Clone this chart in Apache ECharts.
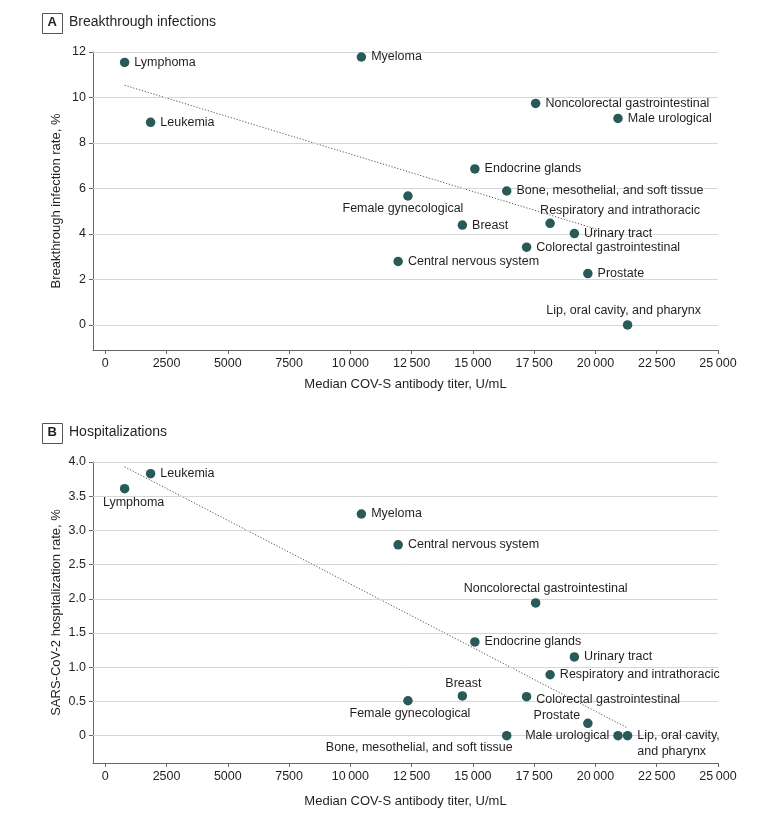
<!DOCTYPE html>
<html><head><meta charset="utf-8">
<script src="https://cdn.jsdelivr.net/npm/echarts@6/dist/echarts.min.js"></script>
<style>html,body{margin:0;padding:0;background:#fff}#c{width:780px;height:818px}</style>
</head><body><div id="c"></div>
<script>
const categories = ['Lymphoma','Leukemia','Myeloma','Central nervous system','Female gynecological','Breast','Endocrine glands','Bone, mesothelial, and soft tissue','Colorectal gastrointestinal','Noncolorectal gastrointestinal','Respiratory and intrathoracic','Urinary tract','Prostate','Male urological','Lip, oral cavity, and pharynx'];
const titer = [790, 1850, 10450, 11950, 12350, 14570, 15080, 16380, 17190, 17560, 18150, 19140, 19690, 20920, 21310];
const breakthroughRate = [11.54, 8.91, 11.78, 2.79, 5.67, 4.39, 6.86, 5.89, 3.42, 9.74, 4.47, 4.02, 2.26, 9.08, 0];
const hospitalizationRate = [3.61, 3.83, 3.24, 2.79, 0.51, 0.58, 1.37, 0, 0.57, 1.94, 0.89, 1.15, 0.18, 0, 0];
const trendA = [[790, 10.54], [20200, 4.16]];
const trendB = [[790, 3.93], [21270, 0.12]];
const xTicks = [0, 2500, 5000, 7500, 10000, 12500, 15000, 17500, 20000, 22500, 25000];
const yTicksA = [0, 2, 4, 6, 8, 10, 12];
const yTicksB = [0, 0.5, 1.0, 1.5, 2.0, 2.5, 3.0, 3.5, 4.0];

const FONT = 'Liberation Sans';
const TXT = '#231f20';
const DOT = '#285a58';
const AX = '#666666';
const GRIDC = '#d6d6d6';
const LS = 12.5;

// label placement (styling only)
const placeA = {
  'Female gynecological': {position: 'bottom', distance: 1, offset: [-5, 0]},
  'Respiratory and intrathoracic': {position: 'top', distance: 1, align: 'left', offset: [-10, 0]},
  'Lip, oral cavity, and pharynx': {position: 'top', distance: 3, offset: [-4, 0]}
};
const placeB = {
  'Lymphoma': {position: 'bottom', distance: 3, offset: [9, 0]},
  'Noncolorectal gastrointestinal': {position: 'top', distance: 3, offset: [10, 0]},
  'Breast': {position: 'top', distance: 1, offset: [1, 0]},
  'Colorectal gastrointestinal': {position: 'right', distance: 5, offset: [0, 3]},
  'Female gynecological': {position: 'bottom', distance: 2, offset: [2, 0]},
  'Prostate': {position: 'left', distance: 3, offset: [0, -8]},
  'Male urological': {position: 'left', distance: 4},
  'Bone, mesothelial, and soft tissue': {position: 'bottom', distance: 1, align: 'right', offset: [6, 0]},
  'Lip, oral cavity, and pharynx': {position: 'right', distance: 5, offset: [0, 8], formatter: 'Lip, oral cavity,\nand pharynx', lineHeight: 16}
};

function fmtX(v) {
  if (v >= 10000) { const s = String(v); return s.slice(0, s.length - 3) + '\u2009' + s.slice(-3); }
  return String(v);
}
function fmtY(v) { return v === 0 ? '0' : v.toFixed(1); }

function pts(rates, place) {
  return categories.map((n, i) => {
    const lab = Object.assign({show: true, position: 'right', distance: 5}, place[n] || {});
    return {name: n, value: [titer[i], rates[i]], label: lab};
  });
}

const baseX = (gi) => ({
  type: 'value', gridIndex: gi, min: -500, max: 25000,
  name: 'Median COV-S antibody titer, U/mL', nameLocation: 'middle',
  nameGap: gi === 0 ? 28 : 32, nameMoveOverlap: false,
  nameTextStyle: {fontFamily: FONT, fontSize: 13, color: TXT},
  axisLine: {show: true, onZero: false, lineStyle: {color: AX, width: 1}},
  axisTick: {show: true, length: 4, customValues: xTicks, lineStyle: {color: AX}},
  axisLabel: {customValues: xTicks, formatter: fmtX, margin: 7, fontFamily: FONT, fontSize: LS, color: TXT},
  splitLine: {show: false}
});
const baseY = (gi, min, max, ticks, name, fmt) => ({
  type: 'value', gridIndex: gi, min: min, max: max,
  name: name, nameLocation: 'middle', nameGap: 30, nameMoveOverlap: false,
  nameTextStyle: {fontFamily: FONT, fontSize: 13, color: TXT},
  axisLine: {show: true, onZero: false, lineStyle: {color: AX, width: 1}},
  axisTick: {show: true, length: 4, customValues: ticks, lineStyle: {color: AX}},
  axisLabel: {customValues: ticks, formatter: fmt, margin: 7, fontFamily: FONT, fontSize: LS, color: TXT},
  splitLine: {show: false}
});

const gridLines = (ticks) => ({
  silent: true, symbol: 'none', animation: false,
  label: {show: false},
  lineStyle: {color: GRIDC, width: 1, type: 'solid'},
  data: ticks.map(v => ({yAxis: v}))
});

const scatterStyle = {
  type: 'scatter', symbolSize: 9.5, z: 5,
  itemStyle: {color: DOT, opacity: 1},
  label: {fontFamily: FONT, fontSize: LS, color: TXT, formatter: '{b}'},
  emphasis: {disabled: true}
};

const chart = echarts.init(document.getElementById('c'), null, {renderer: 'canvas'});
chart.setOption({
  backgroundColor: '#ffffff',
  animation: false,
  textStyle: {fontFamily: FONT},
  grid: [
    {left: 93, top: 52, width: 625, height: 298},
    {left: 93, top: 462, width: 625, height: 301}
  ],
  xAxis: [baseX(0), baseX(1)],
  yAxis: [
    baseY(0, -1.1, 12, yTicksA, 'Breakthrough infection rate, %', v => String(v)),
    baseY(1, -0.4, 4, yTicksB, 'SARS-CoV-2 hospitalization rate, %', fmtY)
  ],
  graphic: [
    {type: 'rect', left: 42, top: 13, shape: {width: 20, height: 20}, style: {fill: '#fff', stroke: '#555', lineWidth: 1}},
    {type: 'text', left: 47.5, top: 16, style: {text: 'A', font: 'bold 13px ' + FONT, fill: TXT}},
    {type: 'text', left: 69, top: 15, style: {text: 'Breakthrough infections', font: '14px ' + FONT, fill: TXT}},
    {type: 'rect', left: 42, top: 423, shape: {width: 20, height: 20}, style: {fill: '#fff', stroke: '#555', lineWidth: 1}},
    {type: 'text', left: 47.5, top: 426, style: {text: 'B', font: 'bold 13px ' + FONT, fill: TXT}},
    {type: 'text', left: 69, top: 425, style: {text: 'Hospitalizations', font: '14px ' + FONT, fill: TXT}}
  ],
  series: [
    {type: 'line', xAxisIndex: 0, yAxisIndex: 0, data: trendA, symbol: 'none', z: 2,
     lineStyle: {color: '#555', width: 1, type: [1.2, 1.8]}, markLine: gridLines(yTicksA), silent: true},
    Object.assign({}, scatterStyle, {xAxisIndex: 0, yAxisIndex: 0, data: pts(breakthroughRate, placeA)}),
    {type: 'line', xAxisIndex: 1, yAxisIndex: 1, data: trendB, symbol: 'none', z: 2,
     lineStyle: {color: '#555', width: 1, type: [1.2, 1.8]}, markLine: gridLines(yTicksB), silent: true},
    Object.assign({}, scatterStyle, {xAxisIndex: 1, yAxisIndex: 1, data: pts(hospitalizationRate, placeB)})
  ]
});
</script>
</body></html>
